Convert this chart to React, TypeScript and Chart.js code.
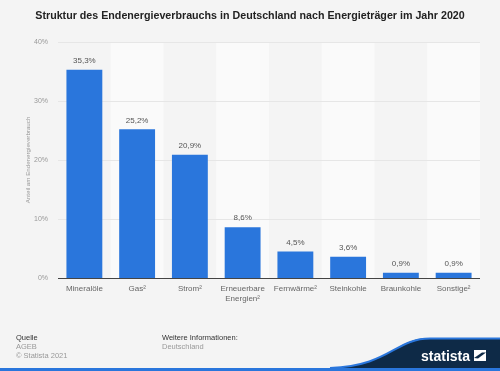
import React, { useEffect, useRef } from "react";
import { Chart, registerables } from "chart.js";

Chart.register(...registerables);

const categories: (string | string[])[] = [
  "Mineralöle",
  "Gas²",
  "Strom²",
  ["Erneuerbare", "Energien²"],
  "Fernwärme²",
  "Steinkohle",
  "Braunkohle",
  "Sonstige²",
];
const values: number[] = [35.3, 25.2, 20.9, 8.6, 4.5, 3.6, 0.9, 0.9];
const yTicks: number[] = [0, 10, 20, 30, 40];

const TITLE = "Struktur des Endenergieverbrauchs in Deutschland nach Energieträger im Jahr 2020";
const Y_TITLE = "Anteil am Endenergieverbrauch";
const FONT = "'Liberation Sans', Arial, sans-serif";
const BG = "#f4f4f4";
const BAR = "#2a76dc";

const fmt = (v: number) => v.toFixed(1).replace(".", ",") + "%";

const decorPlugin = {
  id: "decor",
  beforeDatasetsDraw(chart: any) {
    const { ctx, chartArea } = chart;
    const n = categories.length;
    const w = (chartArea.right - chartArea.left) / n;
    ctx.save();
    ctx.fillStyle = "#fafafa";
    for (let i = 1; i < n; i += 2) {
      ctx.fillRect(chartArea.left + i * w, chartArea.top, w, chartArea.bottom - chartArea.top);
    }
    const y = chart.scales.y;
    ctx.strokeStyle = "#e6e6e6";
    ctx.lineWidth = 1;
    for (const t of yTicks) {
      if (t === 0) continue;
      const py = Math.round(y.getPixelForValue(t)) + 0.5;
      ctx.beginPath();
      ctx.moveTo(chartArea.left, py);
      ctx.lineTo(chartArea.right, py);
      ctx.stroke();
    }
    ctx.restore();
  },
  afterDatasetsDraw(chart: any) {
    const { ctx, chartArea } = chart;
    const meta = chart.getDatasetMeta(0);
    ctx.save();
    ctx.strokeStyle = "#444";
    ctx.lineWidth = 1;
    const by = Math.round(chart.scales.y.getPixelForValue(0)) + 0.5;
    ctx.beginPath();
    ctx.moveTo(chartArea.left, by);
    ctx.lineTo(chartArea.right, by);
    ctx.stroke();
    ctx.fillStyle = "#555";
    ctx.font = `8px ${FONT}`;
    ctx.textAlign = "center";
    ctx.textBaseline = "bottom";
    meta.data.forEach((bar: any, i: number) => {
      ctx.fillText(fmt(values[i]), bar.x, bar.y - 5);
    });
    ctx.restore();
  },
  afterDraw(chart: any) {
    const { ctx, chartArea } = chart;
    ctx.save();
    ctx.fillStyle = "#222";
    ctx.font = `bold 10.7px ${FONT}`;
    ctx.textAlign = "center";
    ctx.textBaseline = "middle";
    ctx.fillText(TITLE, 250, 16);
    ctx.save();
    ctx.translate(28, (chartArea.top + chartArea.bottom) / 2);
    ctx.rotate(-Math.PI / 2);
    ctx.fillStyle = "#999";
    ctx.font = `6.2px ${FONT}`;
    ctx.fillText(Y_TITLE, 0, 0);
    ctx.restore();
    ctx.textAlign = "left";
    ctx.textBaseline = "alphabetic";
    ctx.font = `7.5px ${FONT}`;
    ctx.fillStyle = "#333";
    ctx.fillText("Quelle", 16, 340);
    ctx.fillText("Weitere Informationen:", 162, 340);
    ctx.fillStyle = "#999";
    ctx.fillText("AGEB", 16, 349);
    ctx.fillText("© Statista 2021", 16, 358);
    ctx.fillText("Deutschland", 162, 349);
    ctx.fillStyle = "#0e2a47";
    ctx.beginPath();
    ctx.moveTo(500, 338);
    ctx.lineTo(430, 338);
    ctx.bezierCurveTo(395, 338, 390, 366, 330, 368);
    ctx.lineTo(500, 368);
    ctx.closePath();
    ctx.fill();
    ctx.strokeStyle = BAR;
    ctx.lineWidth = 2;
    ctx.beginPath();
    ctx.moveTo(500, 338.5);
    ctx.lineTo(430, 338.5);
    ctx.bezierCurveTo(395, 338.5, 390, 366, 330, 368);
    ctx.stroke();
    ctx.fillStyle = BAR;
    ctx.fillRect(0, 368, 500, 3);
    ctx.fillStyle = "#fff";
    ctx.font = `bold 14px ${FONT}`;
    ctx.fillText("statista", 421, 361);
    ctx.beginPath();
    ctx.moveTo(474, 350);
    ctx.lineTo(486, 350);
    ctx.lineTo(486, 361);
    ctx.lineTo(474, 361);
    ctx.closePath();
    ctx.fill();
    ctx.fillStyle = "#0e2a47";
    ctx.beginPath();
    ctx.moveTo(474, 358);
    ctx.lineTo(482, 352.5);
    ctx.lineTo(486, 352.5);
    ctx.lineTo(478, 358.5);
    ctx.closePath();
    ctx.fill();
    ctx.restore();
  },
};

export default function App() {
  const ref = useRef<HTMLCanvasElement>(null);
  useEffect(() => {
    if (!ref.current) return;
    const chart = new Chart(ref.current, {
      type: "bar",
      data: {
        labels: categories,
        datasets: [
          {
            data: values,
            backgroundColor: BAR,
            barPercentage: 0.68,
            categoryPercentage: 1,
          },
        ],
      },
      options: {
        animation: false,
        responsive: false,
        layout: { padding: { left: 0, right: 20, top: 42, bottom: 63 } },
        plugins: { legend: { display: false }, tooltip: { enabled: false }, title: { display: false } },
        scales: {
          x: {
            grid: { display: false, drawTicks: false },
            border: { display: false },
            ticks: {
              color: "#666",
              font: { family: FONT, size: 8 },
              padding: 6,
              maxRotation: 0,
              autoSkip: false,
            },
            afterFit: (s: any) => {
              s.height = 30;
            },
          },
          y: {
            min: 0,
            max: 40,
            grid: { display: false, drawTicks: false },
            border: { display: false },
            afterBuildTicks: (s: any) => {
              s.ticks = yTicks.map((v) => ({ value: v }));
            },
            ticks: {
              color: "#999",
              font: { family: FONT, size: 7 },
              padding: 10,
              callback: (v: any) => v + "%",
            },
            afterFit: (s: any) => {
              s.width = 58;
            },
          },
        },
      },
      plugins: [decorPlugin],
    });
    return () => chart.destroy();
  }, []);
  return (
    <div style={{ position: "fixed", left: 0, top: 0, width: 500, height: 371, background: BG }}>
      <canvas ref={ref} width={500} height={371} style={{ display: "block", width: 500, height: 371 }} />
    </div>
  );
}
